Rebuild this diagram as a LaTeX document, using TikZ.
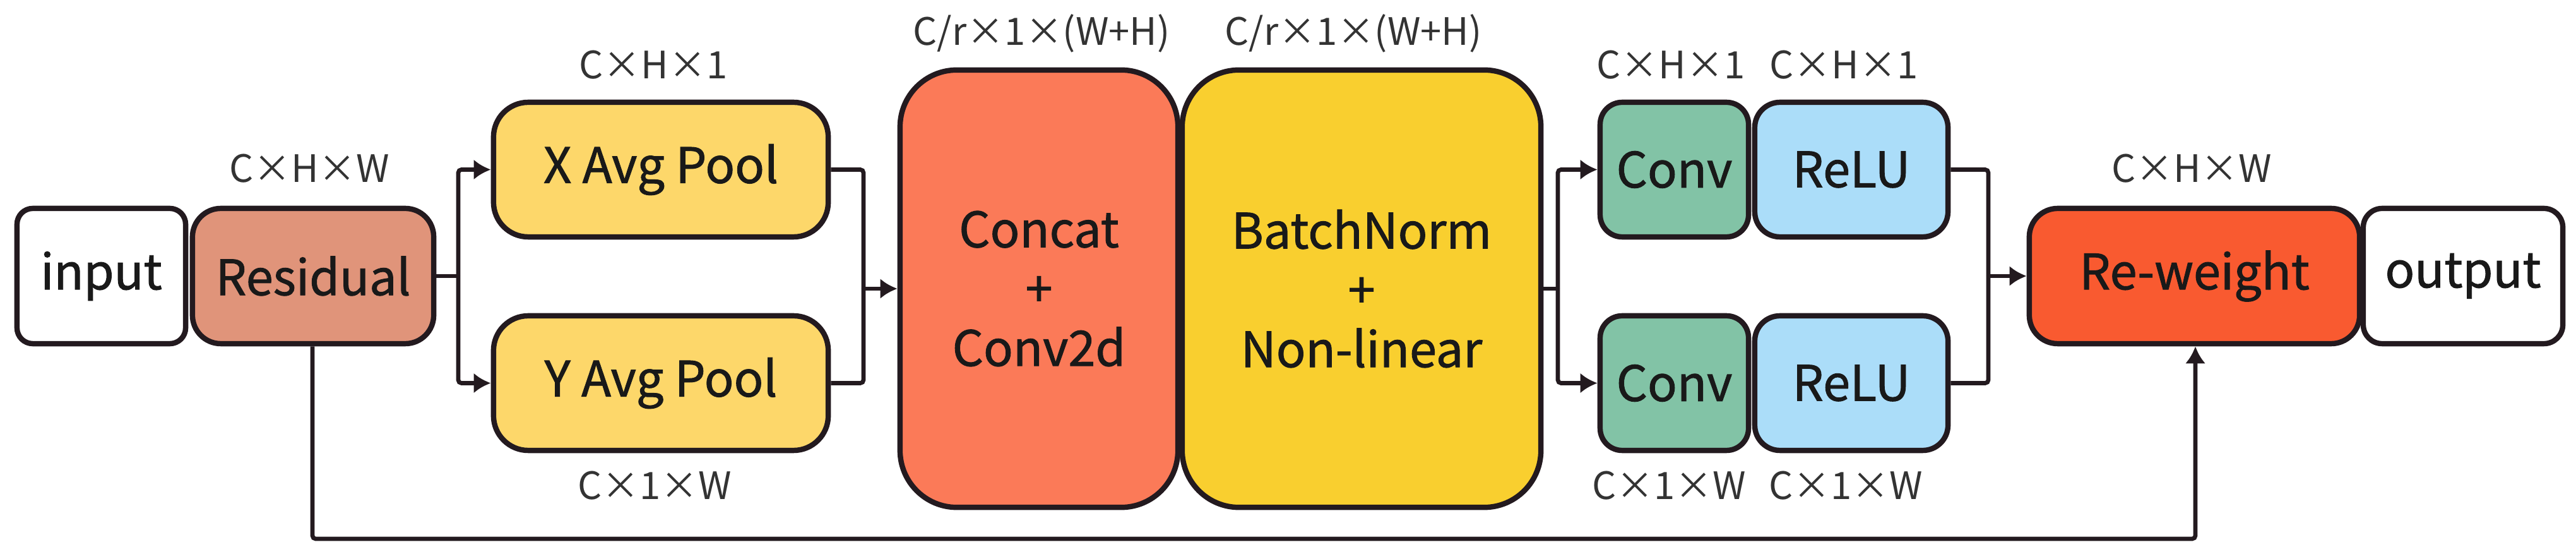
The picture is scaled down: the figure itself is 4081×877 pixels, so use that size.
\documentclass[tikz,border=0pt]{standalone}
\usepackage{fontspec}
\setmainfont{Noto Sans CJK SC}
\newfontfamily\boxfont{Noto Sans CJK SC}[FakeBold=1.2]
\usetikzlibrary{arrows.meta,calc}
\definecolor{edge}{HTML}{231A1F}
\definecolor{cres}{HTML}{E0947A}
\definecolor{cpool}{HTML}{FDD76A}
\definecolor{ccat}{HTML}{FB7A58}
\definecolor{cbn}{HTML}{F9CF2F}
\definecolor{cconv}{HTML}{82C3A6}
\definecolor{crelu}{HTML}{ABDDF9}
\definecolor{crw}{HTML}{F95A30}
\definecolor{clab}{HTML}{333333}
\tikzset{
  blk/.style={draw=edge, line width=2.4pt, rounded corners=0.45cm, inner sep=0pt, align=center,
    font=\boxfont\fontsize{22}{26.7}\selectfont, text=black!90},
  dimlab/.style={font=\fontsize{17}{20}\selectfont, text=clab, inner sep=0pt},
  conn/.style={draw=edge, line width=1.9pt, rounded corners=0.05cm},
  arr/.style={conn, -{Latex[length=0.27cm,width=0.32cm]}},
}
\begin{document}
\begin{tikzpicture}[x=0.01cm,y=-0.01cm]
\useasboundingbox (0,0) rectangle (4081,877);
% nodes
\node[blk, fill=white, minimum width=2.67cm, minimum height=2.14cm, rounded corners=0.25cm] (input) at (160.5,437) {input};
\node[blk, fill=cres, minimum width=3.82cm, minimum height=2.14cm] (residual) at (496,437) {Residual};
\node[blk, fill=cpool, minimum width=5.30cm, minimum height=2.13cm, rounded corners=0.55cm] (xpool) at (1047,268.5) {X Avg Pool};
\node[blk, fill=cpool, minimum width=5.30cm, minimum height=2.13cm, rounded corners=0.55cm] (ypool) at (1047,606.5) {Y Avg Pool};
\node[blk, fill=ccat, minimum width=4.40cm, minimum height=6.92cm, rounded corners=0.9cm] (concat) at (1646,457) {Concat\\+\\Conv2d};
\node[blk, fill=cbn, minimum width=5.68cm, minimum height=6.92cm, rounded corners=0.9cm] (bn) at (2157,457) {BatchNorm\\+\\Non-linear};
\node[blk, fill=cconv, minimum width=2.35cm, minimum height=2.13cm, rounded corners=0.35cm] (conva) at (2652.5,268.5) {Conv};
\node[blk, fill=crelu, minimum width=3.06cm, minimum height=2.13cm, rounded corners=0.4cm] (relua) at (2933,268.5) {ReLU};
\node[blk, fill=cconv, minimum width=2.35cm, minimum height=2.13cm, rounded corners=0.35cm] (convb) at (2652.5,606.5) {Conv};
\node[blk, fill=crelu, minimum width=3.06cm, minimum height=2.13cm, rounded corners=0.4cm] (relub) at (2933,606.5) {ReLU};
\node[blk, fill=crw, minimum width=5.23cm, minimum height=2.14cm] (reweight) at (3476.5,437) {Re-weight};
\node[blk, fill=white, minimum width=3.16cm, minimum height=2.14cm, rounded corners=0.3cm] (output) at (3902,437) {output};
% dimension labels
\node[dimlab] (lres) at (490,267) {C×H×W};
\node[dimlab] (lxp) at (1035,103) {C×H×1};
\node[dimlab] (lyp) at (1037,769) {C×1×W};
\node[dimlab] (lcat) at (1650,53) {C/r×1×(W+H)};
\node[dimlab] (lbn) at (2144,53) {C/r×1×(W+H)};
\node[dimlab] (lca) at (2647,103) {C×H×1};
\node[dimlab] (lra) at (2921,103) {C×H×1};
\node[dimlab] (lcb) at (2644,769) {C×1×W};
\node[dimlab] (lrb) at (2924,769) {C×1×W};
\node[dimlab] (lrw) at (3472,267) {C×H×W};
% junction coordinates
\coordinate (s1) at (726,437);
\coordinate (m1) at (1368,457);
\coordinate (s2) at (2468,457);
\coordinate (m2) at (3150,437);
\coordinate (k1) at (495,853);
\coordinate (k2) at (3478,853);
% connectors
\draw[conn] (residual.east) -- (s1);
\draw[arr] (s1) |- (xpool.west);
\draw[arr] (s1) |- (ypool.west);
\draw[conn] (xpool.east) -| (m1);
\draw[conn] (ypool.east) -| (m1);
\draw[arr] (m1) -- (concat.west);
\draw[conn] (bn.east) -- (s2);
\draw[arr] (s2) |- (conva.west);
\draw[arr] (s2) |- (convb.west);
\draw[conn] (relua.east) -| (m2);
\draw[conn] (relub.east) -| (m2);
\draw[arr] (m2) -- (reweight.west);
\draw[arr] (residual.south -| k1) -- (k1) -- (k2) -- (reweight.south -| k2);
\end{tikzpicture}
\end{document}
